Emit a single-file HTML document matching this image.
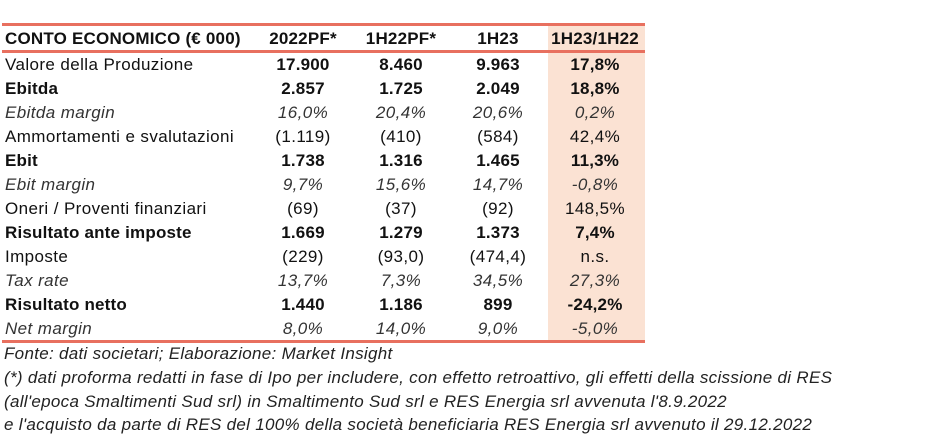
<!DOCTYPE html>
<html><head><meta charset="utf-8"><style>
body{margin:0;width:935px;height:439px;background:#fff;font-family:"Liberation Sans",sans-serif;color:#111;position:relative;overflow:hidden}
.hl{position:absolute;left:548px;top:26px;width:97px;height:315px;background:#fbe2d3}
.line{position:absolute;left:2px;width:643px;background:#e8705f}
.row{position:absolute;left:0;width:645px;height:24px;font-size:17px;line-height:24px;letter-spacing:0.4px}
.row span{position:absolute;top:0;white-space:nowrap}
.l{left:5px}
.c1,.c2,.c3,.c4{text-align:center;width:110px}
.c1{left:248px}.c2{left:346px}.c3{left:443px}.c4{left:540px}
.b{font-weight:bold;letter-spacing:0.2px}.i{font-style:italic;color:#333}
.foot{position:absolute;left:4px;font-size:17px;letter-spacing:0.3px;font-style:italic;color:#222;white-space:nowrap;line-height:24px}
</style></head><body>
<div class="hl"></div>
<div class="line" style="top:23px;height:3px"></div>
<div class="line" style="top:50px;height:3px"></div>
<div class="line" style="top:340px;height:3px"></div>
<div class="row b" style="top:27px"><span class="l">CONTO ECONOMICO (€ 000)</span><span class="c1">2022PF*</span><span class="c2">1H22PF*</span><span class="c3">1H23</span><span class="c4">1H23/1H22</span></div>
<div id="rows"></div>
<div class="foot" style="top:342px">Fonte: dati societari; Elaborazione: Market Insight</div>
<div class="foot" style="top:366px">(*) dati proforma redatti in fase di Ipo per includere, con effetto retroattivo, gli effetti della scissione di RES</div>
<div class="foot" style="top:390px">(all'epoca Smaltimenti Sud srl) in Smaltimento Sud srl e RES Energia srl avvenuta l'8.9.2022</div>
<div class="foot" style="top:413px">e l'acquisto da parte di RES del 100% della società beneficiaria RES Energia srl avvenuto il 29.12.2022</div>
<script>
const labels=["Valore della Produzione","Ebitda","Ebitda margin","Ammortamenti e svalutazioni","Ebit","Ebit margin","Oneri / Proventi finanziari","Risultato ante imposte","Imposte","Tax rate","Risultato netto","Net margin"];
const col2022=["17.900","2.857","16,0%","(1.119)","1.738","9,7%","(69)","1.669","(229)","13,7%","1.440","8,0%"];
const col1H22=["8.460","1.725","20,4%","(410)","1.316","15,6%","(37)","1.279","(93,0)","7,3%","1.186","14,0%"];
const col1H23=["9.963","2.049","20,6%","(584)","1.465","14,7%","(92)","1.373","(474,4)","34,5%","899","9,0%"];
const colVar=["17,8%","18,8%","0,2%","42,4%","11,3%","-0,8%","148,5%","7,4%","n.s.","27,3%","-24,2%","-5,0%"];
const styles=["lb","b","i","","b","i","","b","","i","b","i"];
const host=document.getElementById('rows');
labels.forEach((lab,k)=>{
  const r=document.createElement('div');
  r.className='row';
  r.style.top=(53+k*24)+'px';
  
  
  const st=styles[k];
  const lc=st==='b'?'b':st==='i'?'i':'';
  const vc=st==='lb'?'b':lc;
  r.innerHTML=`<span class="l ${lc}">${lab}</span><span class="c1 ${vc}">${col2022[k]}</span><span class="c2 ${vc}">${col1H22[k]}</span><span class="c3 ${vc}">${col1H23[k]}</span><span class="c4 ${vc}">${colVar[k]}</span>`;
  host.appendChild(r);
});
</script>
</body></html>
